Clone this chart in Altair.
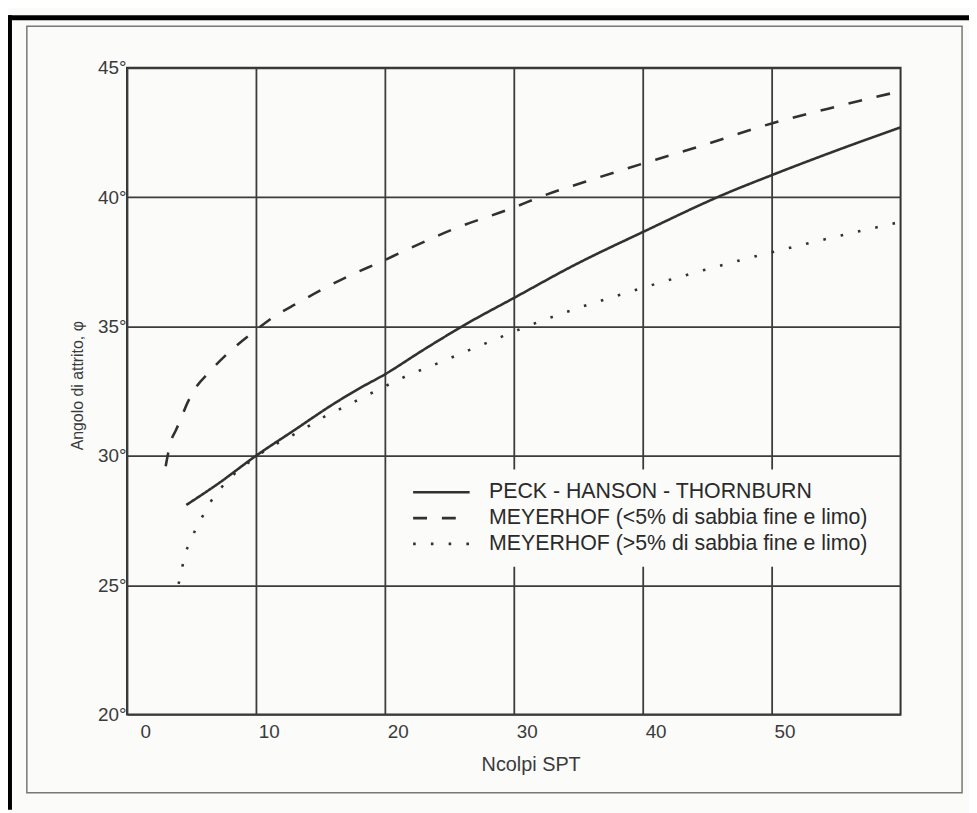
import altair as alt
import pandas as pd

# ---- data ----
series_names = [
    "PECK - HANSON - THORNBURN",
    "MEYERHOF (<5% di sabbia fine e limo)",
    "MEYERHOF (>5% di sabbia fine e limo)",
]

pht_n = [4.6, 7, 10, 13, 16, 18, 20, 23, 26.5, 30, 34.8, 40, 46.5, 50, 55, 60]
pht_phi = [28.1, 28.9, 30.0, 31.0, 32.0, 32.6, 33.15, 34.1, 35.15, 36.1, 37.4, 38.65, 40.15, 40.85, 41.8, 42.7]

mey1_n = [3.0, 3.4, 3.8, 4.2, 4.6, 5.1, 6.5, 7.9, 9.85, 11.3, 13.2, 15.2, 17.4, 19.7, 21.4, 25.5,
          30, 32, 36.5, 41, 44, 50, 55, 60]
mey1_phi = [29.6, 30.55, 31.0, 31.45, 31.95, 32.45, 33.3, 34.0, 34.8, 35.35, 35.9, 36.45, 37.0, 37.5,
            37.9, 38.8, 39.6, 40.0, 40.75, 41.45, 41.9, 42.85, 43.5, 44.1]

mey2_n = [4.0, 4.25, 4.46, 4.9, 5.33, 5.9, 6.46, 7.2, 8.0, 9.0, 10, 11, 12.5, 14.6, 15.8, 17.05, 18.25,
          19.5, 20.7, 24.5, 28.4, 31, 34.9, 38.85, 40.3, 47.1, 52.7, 59.6]
mey2_phi = [25.05, 25.6, 26.13, 26.65, 27.18, 27.7, 28.2, 28.7, 29.15, 29.57, 29.95, 30.3, 30.7, 31.3,
            31.65, 31.93, 32.26, 32.55, 32.86, 33.66, 34.47, 35.0, 35.7, 36.32, 36.54, 37.5, 38.2, 39.0]

x_ticks = [0, 10, 20, 30, 40, 50]
y_ticks = [20, 25, 30, 35, 40, 45]

rows = []
for name, ns, ps in zip(series_names, [pht_n, mey1_n, mey2_n], [pht_phi, mey1_phi, mey2_phi]):
    for i, (n, p) in enumerate(zip(ns, ps)):
        rows.append({"serie": name, "N": n, "phi": p, "ord": i})
df = pd.DataFrame(rows)

FONT = "Liberation Sans"
INK = "#313131"

lines = alt.Chart(df).mark_line(
    color=INK, strokeWidth=2.6, interpolate="monotone", strokeCap="butt"
).encode(
    x=alt.X("N:Q", scale=alt.Scale(domain=[0, 60], nice=False),
            axis=alt.Axis(values=x_ticks, title="Ncolpi SPT", labelOffset=13,
                          labelFontSize=19, labelPadding=8,
                          titleX=407, titleY=50, titleBaseline="middle", titleFontSize=20)),
    y=alt.Y("phi:Q", scale=alt.Scale(domain=[20, 45], nice=False, zero=False),
            axis=alt.Axis(values=y_ticks, labelExpr="datum.value + '°'",
                          labelFontSize=19, labelPadding=1,
                          title="Angolo di attrito, φ", titleX=-50, titleY=320,
                          titleAlign="center", titleBaseline="middle", titleAngle=-90,
                          titleFontSize=16)),
    strokeDash=alt.StrokeDash(
        "serie:N",
        scale=alt.Scale(domain=series_names, range=[[1, 0], [14, 15], [2.6, 15.3]]),
        sort=series_names,
        legend=alt.Legend(title=None, orient="none", legendX=277, legendY=405,
                          symbolType="stroke", symbolSize=3249, symbolStrokeWidth=2.6,
                          symbolStrokeColor=INK, labelOffset=18, padding=10,
                          clipHeight=26, rowPadding=0,
                          fillColor="#fbfbfa", labelFontSize=21.5, labelColor="#2a2a2a",
                          labelFont=FONT, labelLimit=600),
    ),
    order="ord:Q",
)

frame_df = pd.DataFrame({"k": [1]})
inner_frame = alt.Chart(frame_df).mark_rect(
    fill=None, stroke="#777777", strokeWidth=1.5
).encode(x=alt.value(-101), x2=alt.value(842), y=alt.value(-42), y2=alt.value(731))
top_bar = alt.Chart(frame_df).mark_rect(fill="#000000").encode(
    x=alt.value(-120), x2=alt.value(849), y=alt.value(-53), y2=alt.value(-48))
left_bar = alt.Chart(frame_df).mark_rect(fill="#000000").encode(
    x=alt.value(-120), x2=alt.value(-116), y=alt.value(-53), y2=alt.value(748))

chart = alt.layer(inner_frame, top_bar, left_bar, lines).properties(
    width=780, height=652,
    autosize=alt.AutoSizeParams(type="none"),
    padding={"left": 120, "top": 57, "right": 69, "bottom": 96},
    background="#fbfbfa",
).configure_view(
    stroke=INK, strokeWidth=2
).configure_axis(
    grid=True, gridColor="#3c3c3c", gridWidth=1.8, gridOpacity=1,
    domain=False, ticks=False,
    labelFont=FONT, labelColor="#3a3a3a",
    titleFont=FONT, titleColor="#3a3a3a", titleFontWeight="normal",
)

chart.save("out.html", embed_options={"renderer": "svg", "actions": False})
